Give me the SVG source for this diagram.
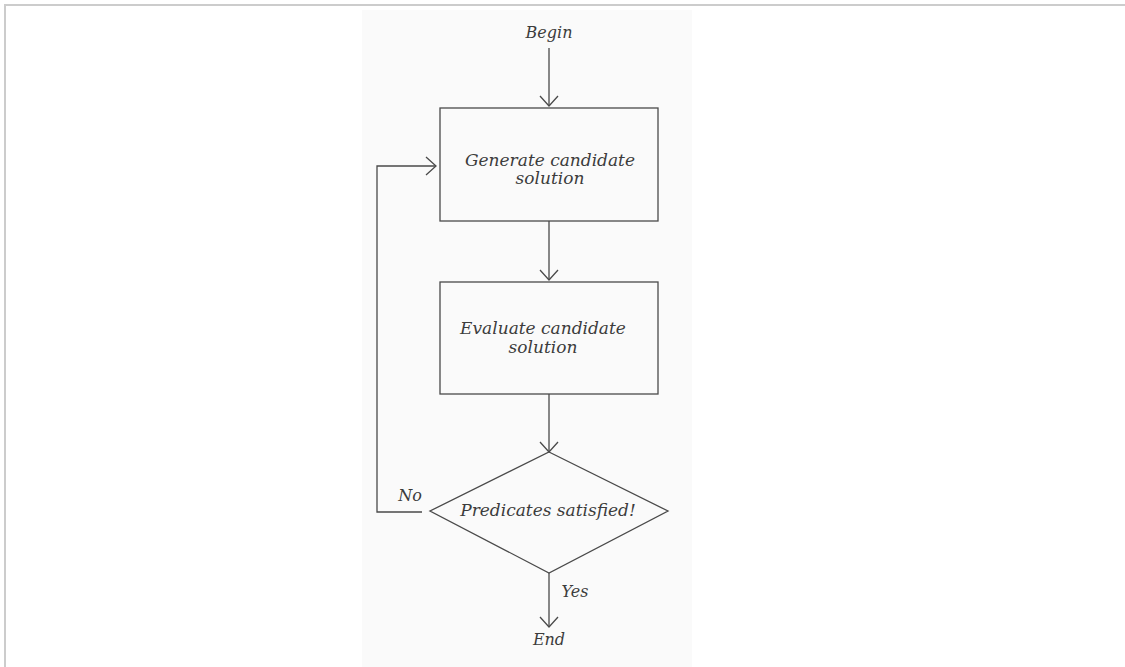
<svg xmlns="http://www.w3.org/2000/svg" width="1125" height="667" viewBox="0 0 1125 667">
  <style>
    .frame { stroke: #cccccc; stroke-width: 2; fill: none; }
    .page { fill: #fafafa; }
    .shape { fill: none; stroke: #4a4a4a; stroke-width: 1.3; }
    .link { fill: none; stroke: #4a4a4a; stroke-width: 1.3; }
    .label { font-family: "DejaVu Serif", "Liberation Serif", serif; font-style: italic; font-size: 16px; fill: #3c3c3c; text-anchor: middle; }
    .big { font-size: 17px; }
  </style>
  <defs>
    <marker id="open-arrow" viewBox="0 0 20 20" refX="18" refY="10" markerWidth="20" markerHeight="20" markerUnits="userSpaceOnUse" orient="auto">
      <path d="M 8 1 L 18 10 L 8 19" fill="none" stroke="#4a4a4a" stroke-width="1.3"/>
    </marker>
  </defs>

  <rect width="1125" height="667" fill="#ffffff"/>
  <rect class="page" x="362" y="10" width="330" height="657"/>
  <path class="frame" d="M 5 667 L 5 5 L 1125 5"/>

  <g id="connectors">
    <line class="link" x1="549" y1="48" x2="549" y2="106" marker-end="url(#open-arrow)"/>
    <line class="link" x1="549" y1="221" x2="549" y2="280" marker-end="url(#open-arrow)"/>
    <line class="link" x1="549" y1="394" x2="549" y2="452" marker-end="url(#open-arrow)"/>
    <line class="link" x1="549" y1="573" x2="549" y2="627" marker-end="url(#open-arrow)"/>
    <polyline class="link" points="422,512 377,512 377,166 436,166" marker-end="url(#open-arrow)"/>
    <text class="label" x="410" y="501">No</text>
    <text class="label" x="575" y="597">Yes</text>
  </g>

  <g id="begin">
    <text class="label" x="549" y="38">Begin</text>
  </g>

  <g id="generate">
    <rect class="shape" x="440" y="108" width="218" height="113"/>
    <text class="label big" x="550" y="166">Generate candidate</text>
    <text class="label big" x="550" y="184">solution</text>
  </g>

  <g id="evaluate">
    <rect class="shape" x="440" y="282" width="218" height="112"/>
    <text class="label big" x="543" y="334">Evaluate candidate</text>
    <text class="label big" x="543" y="353">solution</text>
  </g>

  <g id="decision">
    <polygon class="shape" points="549,452 668,511 549,573 430,511"/>
    <text class="label big" x="548" y="516">Predicates satisfied!</text>
  </g>

  <g id="end">
    <text class="label" x="549" y="645">End</text>
  </g>
</svg>
